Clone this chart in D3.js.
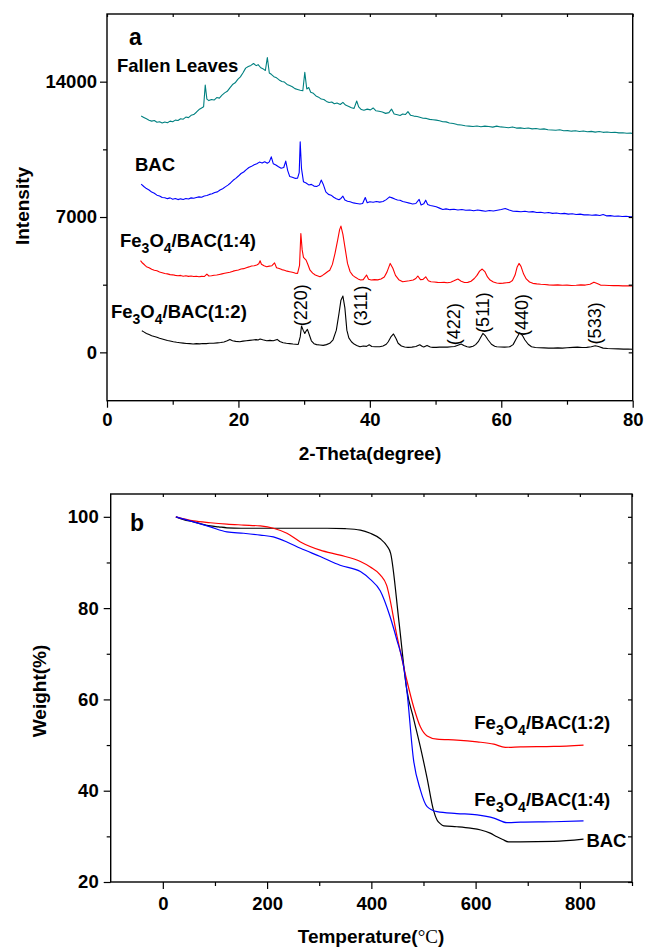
<!DOCTYPE html>
<html>
<head>
<meta charset="utf-8">
<script src="https://cdn.jsdelivr.net/npm/d3@7"></script>
<style>
  body { margin: 0; background: #fff; }
  svg text { font-family: 'Liberation Sans', Arial, Helvetica, sans-serif; }
</style>
</head>
<body>
<svg id="fig" width="646" height="948"></svg>
<script>
// ---- panel a: XRD, [2theta, intensity] ----
const leaves = [
  [5.2,12220],[5.6,12150],[6.0,12080],[6.4,12010],[6.8,11960],[7.2,11990],[7.6,11900],[8.0,11930],[8.4,11860],[8.8,11910],
  [9.2,11880],[9.6,11960],[10.0,11930],[10.4,12010],[10.8,11990],[11.2,12080],[11.6,12060],[12.0,12170],[12.4,12140],[12.8,12260],
  [13.2,12300],[13.6,12420],[14.0,12560],[14.4,12640],[14.7,12700],[14.95,13820],[15.2,13100],[15.5,13020],[15.9,13080],[16.3,13050],
  [16.7,13180],[17.1,13150],[17.5,13300],[17.9,13420],[18.3,13500],[18.7,13680],[19.1,13850],[19.5,13940],[19.9,14120],[20.3,14250],
  [20.7,14460],[21.1,14700],[21.5,14780],[21.9,14840],[22.3,14940],[22.7,14830],[23.0,14880],[23.4,14720],[23.8,14650],[24.1,14580],
  [24.4,15250],[24.7,14450],[25.0,14380],[25.4,14260],[25.8,14200],[26.2,14090],[26.6,14010],[27.0,13980],[27.4,13860],[27.8,13800],
  [28.2,13740],[28.6,13640],[29.0,13600],[29.4,13560],[29.8,13530],[30.1,14480],[30.4,13620],[30.7,13700],[31.0,13450],[31.4,13400],
  [31.8,13260],[32.2,13200],[32.6,13100],[33.0,13080],[33.4,12980],[33.8,12920],[34.2,12950],[34.6,12860],[35.0,12900],[35.5,12820],
  [35.9,12930],[36.3,12790],[36.8,12720],[37.2,12650],[37.6,12620],[38.0,13000],[38.3,12700],[38.7,12560],[39.1,12520],[39.6,12580],
  [40.1,12540],[40.5,12640],[40.9,12500],[41.4,12470],[41.9,12430],[42.4,12360],[42.9,12400],[43.3,12580],[43.7,12330],[44.2,12290],
  [44.6,12250],[45.0,12330],[45.4,12300],[45.8,12450],[46.2,12260],[46.7,12220],[47.2,12200],[47.6,12160],[48.1,12110],[48.6,12100],
  [49.1,12050],[49.6,12030],[50.1,12010],[50.6,11980],[51.1,11930],[51.6,11920],[52.1,11860],[52.7,11840],[53.3,11780],[53.9,11760],
  [54.5,11720],[55.1,11700],[55.7,11680],[56.3,11710],[56.9,11670],[57.5,11700],[58.1,11680],[58.7,11650],[59.3,11700],[59.9,11660],
  [60.5,11640],[61.1,11620],[61.7,11660],[62.3,11600],[62.9,11610],[63.5,11580],[64.1,11600],[64.7,11560],[65.3,11580],[65.9,11540],
  [66.5,11560],[67.1,11510],[67.7,11500],[68.3,11490],[68.9,11510],[69.5,11460],[70.1,11470],[70.7,11440],[71.3,11460],[71.9,11420],
  [72.5,11450],[73.1,11410],[73.7,11430],[74.3,11390],[74.9,11420],[75.5,11380],[76.1,11400],[76.7,11370],[77.3,11380],[77.9,11350],
  [78.5,11360],[79.1,11330],[79.7,11340],[80.0,11320]
];
const bac = [
  [5.2,8700],[5.6,8580],[6.0,8470],[6.4,8400],[6.8,8290],[7.2,8230],[7.6,8130],[8.0,8090],[8.4,8010],[8.8,8000],
  [9.2,7950],[9.6,7990],[10.0,7920],[10.4,7960],[10.8,7900],[11.2,7940],[11.6,7910],[12.0,7960],[12.4,7930],[12.8,7990],
  [13.2,7970],[13.6,8010],[14.0,8040],[14.4,8020],[14.8,8090],[15.2,8110],[15.6,8170],[16.0,8200],[16.4,8270],[16.8,8300],
  [17.2,8400],[17.6,8460],[18.0,8560],[18.4,8650],[18.8,8760],[19.2,8900],[19.6,9000],[20.0,9120],[20.4,9250],[20.8,9330],
  [21.2,9450],[21.6,9560],[22.0,9620],[22.4,9700],[22.8,9760],[23.2,9840],[23.6,9790],[24.0,9860],[24.4,9780],[24.7,9850],
  [25.0,10110],[25.3,9760],[25.7,9690],[26.1,9600],[26.5,9520],[26.9,9560],[27.2,9890],[27.5,9400],[27.8,9100],[28.2,9060],
  [28.6,9000],[29.0,9010],[29.25,9300],[29.4,10890],[29.6,9500],[29.9,8820],[30.3,8760],[30.7,8660],[31.1,8690],[31.5,8600],
  [31.9,8580],[32.3,8650],[32.6,8910],[32.9,8700],[33.3,8300],[33.7,8170],[34.1,8130],[34.5,8020],[34.9,7950],[35.3,7890],
  [35.6,7960],[35.9,8080],[36.2,7880],[36.6,7820],[37.0,7790],[37.5,7730],[38.0,7700],[38.5,7670],[38.9,7700],[39.3,8010],
  [39.6,7740],[40.0,7790],[40.5,7760],[41.0,7800],[41.5,7770],[42.0,7800],[42.5,7900],[43.0,8040],[43.4,7990],[43.8,7930],
  [44.2,7880],[44.6,7870],[45.0,7800],[45.5,7760],[46.0,7720],[46.5,7670],[47.0,7700],[47.5,7910],[47.8,7620],[48.2,7680],
  [48.5,7870],[48.8,7650],[49.2,7600],[49.6,7570],[50.1,7530],[50.6,7460],[51.1,7390],[51.6,7420],[52.2,7380],[52.8,7400],
  [53.4,7360],[54.0,7390],[54.6,7350],[55.2,7360],[55.8,7320],[56.4,7360],[57.0,7330],[57.6,7300],[58.2,7340],[58.8,7310],
  [59.4,7350],[60.0,7390],[60.6,7440],[61.2,7360],[61.8,7300],[62.4,7290],[63.0,7270],[63.6,7300],[64.2,7260],[64.8,7280],
  [65.4,7230],[66.0,7250],[66.6,7210],[67.2,7230],[67.8,7190],[68.4,7210],[69.0,7170],[69.6,7190],[70.2,7150],[70.8,7170],
  [71.4,7130],[72.0,7150],[72.6,7110],[73.2,7120],[73.8,7090],[74.4,7110],[75.0,7080],[75.5,7130],[76.0,7060],[76.6,7070],
  [77.2,7040],[77.8,7050],[78.4,7030],[79.0,7040],[79.6,7010],[80.0,7010]
];
const fe14 = [
  [5.1,4740],[5.4,4620],[5.7,4530],[6.0,4430],[6.4,4380],[6.8,4300],[7.2,4250],[7.6,4220],[8.0,4160],[8.4,4120],
  [8.8,4080],[9.2,4060],[9.6,4020],[10.0,4010],[10.4,3980],[10.8,3960],[11.2,3980],[11.6,3940],[12.0,3960],[12.4,3930],
  [12.8,3950],[13.2,3920],[13.6,3940],[14.0,3910],[14.4,3930],[14.8,3920],[15.2,4050],[15.5,3950],[15.9,3960],[16.3,3990],
  [16.7,4000],[17.1,4030],[17.5,4060],[17.9,4090],[18.3,4120],[18.7,4140],[19.2,4200],[19.6,4230],[20.0,4260],[20.4,4310],
  [20.8,4330],[21.2,4380],[21.6,4420],[22.0,4470],[22.4,4480],[22.8,4520],[23.1,4580],[23.3,4740],[23.5,4560],[23.9,4480],
  [24.3,4430],[24.7,4460],[25.1,4480],[25.5,4630],[25.8,4380],[26.2,4340],[26.6,4280],[27.0,4250],[27.4,4200],[27.8,4170],
  [28.2,4140],[28.6,4100],[29.0,4080],[29.3,4500],[29.5,6150],[29.7,5300],[29.9,4910],[30.3,4770],[30.6,4520],[30.9,4250],
  [31.3,4100],[31.7,4000],[32.1,3950],[32.4,3910],[32.8,3980],[33.2,4080],[33.6,4180],[33.9,4250],[34.3,4550],[34.7,5120],
  [35.1,5800],[35.4,6350],[35.6,6530],[35.9,6100],[36.2,5460],[36.6,4600],[37.0,4170],[37.4,3980],[37.8,3880],[38.2,3800],
  [38.6,3740],[39.0,3760],[39.5,4000],[39.8,3780],[40.2,3740],[40.7,3760],[41.2,3750],[41.7,3790],[42.2,3900],[42.6,4150],
  [43.1,4600],[43.5,4350],[43.9,3980],[44.4,3760],[45.0,3650],[45.5,3680],[46.0,3700],[46.6,3740],[47.0,3820],[47.3,3950],
  [47.7,3760],[48.1,3770],[48.5,3910],[48.9,3700],[49.3,3650],[49.8,3640],[50.3,3620],[50.8,3610],[51.3,3620],[51.8,3600],
  [52.3,3630],[52.8,3700],[53.4,3790],[53.9,3680],[54.4,3610],[54.9,3620],[55.4,3680],[55.9,3820],[56.3,3980],[56.7,4200],
  [57.1,4310],[57.5,4180],[57.9,3900],[58.3,3740],[58.8,3640],[59.3,3590],[59.8,3570],[60.3,3580],[60.8,3600],[61.3,3620],
  [61.7,3720],[62.1,4000],[62.4,4400],[62.7,4600],[63.0,4450],[63.4,4050],[63.8,3800],[64.3,3640],[64.8,3570],[65.4,3540],
  [66.0,3520],[66.6,3510],[67.2,3490],[67.9,3480],[68.6,3490],[69.3,3470],[70.0,3480],[70.7,3460],[71.4,3470],[72.1,3490],
  [72.8,3480],[73.5,3520],[74.1,3630],[74.6,3560],[75.1,3480],[75.7,3470],[76.4,3460],[77.1,3450],[77.8,3450],[78.5,3440],
  [79.2,3440],[80.0,3430]
];
const fe12 = [
  [5.3,1120],[5.6,1060],[6.0,980],[6.4,920],[6.8,860],[7.2,820],[7.6,780],[8.0,730],[8.4,690],[8.8,650],
  [9.2,610],[9.6,590],[10.1,550],[10.6,520],[11.1,500],[11.6,480],[12.1,460],[12.6,450],[13.1,430],[13.6,450],
  [14.1,440],[14.6,460],[15.1,450],[15.6,470],[16.2,470],[16.8,490],[17.3,510],[17.8,540],[18.3,600],[18.7,670],
  [19.1,600],[19.6,570],[20.2,550],[20.7,580],[21.2,600],[21.7,620],[22.2,640],[22.7,660],[23.0,640],[23.3,690],
  [23.7,650],[24.3,600],[24.8,620],[25.3,600],[25.9,670],[26.3,560],[26.8,500],[27.3,470],[27.8,450],[28.3,430],
  [28.7,420],[29.1,410],[29.4,800],[29.6,1360],[29.85,1150],[30.1,980],[30.3,1100],[30.5,1190],[30.8,900],[31.1,600],
  [31.5,450],[31.9,400],[32.4,380],[32.9,360],[33.4,400],[33.9,470],[34.4,650],[34.9,1150],[35.3,2000],[35.6,2700],
  [35.9,2910],[36.2,2300],[36.5,1150],[36.8,750],[37.2,550],[37.6,430],[38.0,360],[38.5,290],[39.0,330],[39.5,310],
  [39.9,390],[40.3,300],[40.8,290],[41.5,290],[42.0,330],[42.5,420],[42.8,550],[43.2,800],[43.6,950],[44.0,700],
  [44.3,470],[44.8,330],[45.3,280],[45.8,260],[46.4,270],[47.0,300],[47.6,390],[48.0,300],[48.2,280],[48.7,360],
  [49.2,280],[49.6,260],[50.1,260],[50.6,270],[51.2,280],[51.8,270],[52.4,290],[52.9,300],[53.5,380],[53.9,430],
  [54.3,360],[54.8,290],[55.2,270],[55.7,320],[56.1,400],[56.5,550],[56.9,800],[57.2,980],[57.6,850],[58.0,640],
  [58.5,420],[59.0,320],[59.3,290],[59.9,280],[60.5,270],[61.3,290],[61.8,400],[62.3,720],[62.8,1010],[63.2,880],
  [63.6,640],[64.1,420],[64.6,290],[65.2,250],[65.8,240],[66.5,230],[67.2,220],[67.9,220],[68.6,230],[69.3,220],
  [70.0,240],[70.9,260],[71.6,270],[72.3,250],[73.0,260],[73.7,290],[74.3,340],[74.8,300],[75.5,220],[76.2,200],
  [77.0,190],[77.8,180],[78.6,170],[79.3,170],[80.0,160]
];
const xrdTicksX = [0, 20, 40, 60, 80];
const xrdMinorX = [10, 30, 50, 70];
const xrdTicksY = [0, 7000, 14000];
const xrdMinorY = [3500, 10500];
const hklLabels = ['(220)', '(311)', '(422)', '(511)', '(440)', '(533)'];
const hklTheta = [30.4, 39.5, 53.7, 58.2, 64.0, 75.1];
const hklI = [2440, 2400, 1460, 2060, 1930, 1500];

// ---- panel b: TGA, temperature (C) and weight (%) ----
const tgaBacT = [25, 40, 59, 75, 91, 107, 123, 150, 187, 250, 315, 350, 379, 398, 417, 430, 437, 453, 468, 481, 494, 507, 519, 526, 532, 539, 564, 590, 610, 628, 641, 652, 663, 686, 750, 807];
const tgaBacW = [100, 99.4, 98.9, 98.4, 98.0, 97.8, 97.6, 97.5, 97.5, 97.5, 97.5, 97.4, 97.1, 96.4, 95.2, 93.6, 92.0, 77.0, 62.1, 55.8, 49.6, 42.7, 35.8, 33.6, 32.8, 32.3, 32.1, 31.8, 31.4, 30.7, 29.9, 29.3, 28.8, 28.8, 28.9, 29.4];
const tga12T = [25, 59, 91, 123, 155, 187, 212, 238, 264, 302, 340, 379, 398, 417, 429, 449, 468, 481, 494, 507, 526, 564, 603, 635, 657, 686, 750, 807];
const tga12W = [100, 99.1, 98.7, 98.4, 98.2, 98.0, 97.5, 96.4, 94.5, 92.7, 91.6, 90.2, 89.0, 87.3, 85.1, 74.0, 64.2, 58.4, 54.0, 52.0, 51.3, 51.1, 50.7, 50.2, 49.5, 49.6, 49.7, 50.0];
const tga14T = [25, 59, 91, 123, 155, 187, 212, 238, 264, 302, 340, 379, 398, 417, 436, 449, 462, 468, 481, 494, 507, 526, 564, 603, 635, 660, 686, 750, 807];
const tga14W = [100, 98.9, 97.8, 96.7, 96.4, 96.0, 95.6, 94.5, 93.1, 91.3, 89.4, 88.0, 86.3, 83.8, 78.1, 73.0, 67.2, 62.1, 46.7, 40.2, 36.5, 35.4, 35.0, 34.7, 34.0, 33.0, 33.1, 33.2, 33.4];
const tgaTicksX = [0, 200, 400, 600, 800];
const tgaMinorX = [100, 300, 500, 700, 900];
const tgaTicksY = [20, 40, 60, 80, 100];
const tgaMinorY = [30, 50, 70, 90];

const svg = d3.select('#fig');
const tickFont = 18.5;

// frame + ticks for one panel
function drawAxes(x, y, opt) {
  const [x0, x1] = x.range();
  const [y0, y1] = y.range();
  const g = svg.append('g');
  const fmt = d3.format('d');

  const bottom = g.append('g').attr('transform', `translate(0,${y0})`);
  bottom.append('g').call(d3.axisBottom(x).tickValues(opt.minorX).tickSize(4).tickFormat(''));
  bottom.append('g').call(d3.axisBottom(x).tickValues(opt.ticksX).tickSize(7).tickPadding(opt.padX).tickFormat(fmt));

  const left = g.append('g').attr('transform', `translate(${x0},0)`);
  left.append('g').call(d3.axisLeft(y).tickValues(opt.minorY).tickSize(4).tickFormat(''));
  left.append('g').call(d3.axisLeft(y).tickValues(opt.ticksY).tickSize(7).tickPadding(opt.padY).tickFormat(fmt));

  // mirrored ticks, pointing inward
  g.append('g').attr('transform', `translate(0,${y1})`)
    .call(d3.axisTop(x).tickValues(opt.ticksX.concat(opt.minorX)).tickSize(-3).tickFormat(''));
  g.append('g').attr('transform', `translate(${x1},0)`)
    .call(d3.axisRight(y).tickValues(opt.ticksY.concat(opt.minorY)).tickSize(-4).tickFormat(''));

  g.selectAll('.domain').remove();
  g.selectAll('.tick line').attr('stroke', '#000').attr('stroke-width', 1.2);
  g.selectAll('.tick text')
    .style('font-size', tickFont + 'px')
    .style('font-weight', 'bold')
    .style('fill', '#000');

  g.append('rect')
    .attr('x', x0).attr('y', y1)
    .attr('width', x1 - x0).attr('height', y0 - y1)
    .attr('fill', 'none').attr('stroke', '#000').attr('stroke-width', 1.4);
}

function feLabel(x, y, ratio) {
  const t = svg.append('text')
    .attr('x', x).attr('y', y)
    .attr('font-size', 18.5).attr('font-weight', 'bold');
  t.append('tspan').text('Fe');
  t.append('tspan').attr('font-size', 14).attr('dy', 6).text('3');
  t.append('tspan').attr('dy', -6).text('O');
  t.append('tspan').attr('font-size', 14).attr('dy', 6).text('4');
  t.append('tspan').attr('dy', -6).text(`/BAC(${ratio})`);
}

function label(x, y, txt, size) {
  return svg.append('text')
    .attr('x', x).attr('y', y)
    .attr('font-size', size || 18.5).attr('font-weight', 'bold')
    .text(txt);
}

// ---------- panel a ----------
const xa = d3.scaleLinear().domain([0, 80]).range([107, 632.7]);
const ya = d3.scaleLinear().domain([-2500, 17500]).range([400.7, 14]);

const xrdLine = d3.line().x(d => xa(d[0])).y(d => ya(d[1]));
[[leaves, '#008080'], [bac, '#0000ff'], [fe14, '#ff0000'], [fe12, '#000000']].forEach(([s, c]) => {
  svg.append('path')
    .attr('d', xrdLine(s))
    .attr('fill', 'none')
    .attr('stroke', c)
    .attr('stroke-width', 1.1)
    .attr('stroke-linejoin', 'round');
});

drawAxes(xa, ya, {ticksX: xrdTicksX, minorX: xrdMinorX, ticksY: xrdTicksY, minorY: xrdMinorY, padX: 5, padY: 3});

hklLabels.forEach((t, i) => {
  svg.append('text')
    .attr('transform', `translate(${xa(hklTheta[i])},${ya(hklI[i])}) rotate(-90)`)
    .attr('text-anchor', 'middle')
    .attr('font-size', 18)
    .text(t);
});

label(xa(3.35), ya(15887), 'a', 23);
label(xa(1.52), ya(14490), 'Fallen Leaves');
label(xa(4.26), ya(9373), 'BAC');
feLabel(xa(1.98), ya(5460), '1:4');
feLabel(xa(0.6), ya(1758), '1:2');

svg.append('text')
  .attr('x', 370).attr('y', 460)
  .attr('text-anchor', 'middle')
  .attr('font-size', 19).attr('font-weight', 'bold')
  .text('2-Theta(degree)');
svg.append('text')
  .attr('transform', 'translate(29,206) rotate(-90)')
  .attr('text-anchor', 'middle')
  .attr('font-size', 19).attr('font-weight', 'bold')
  .text('Intensity');

// ---------- panel b ----------
const xb = d3.scaleLinear().domain([-100, 900]).range([110.7, 632]);
const yb = d3.scaleLinear().domain([20, 105]).range([882, 494]);

const tgaLine = d3.line().curve(d3.curveMonotoneX).x(d => xb(d[0])).y(d => yb(d[1]));
[[tgaBacT, tgaBacW, '#000000'], [tga12T, tga12W, '#ff0000'], [tga14T, tga14W, '#0000ff']].forEach(([t, w, c]) => {
  svg.append('path')
    .attr('d', tgaLine(d3.zip(t, w)))
    .attr('fill', 'none')
    .attr('stroke', c)
    .attr('stroke-width', 1.2);
});

drawAxes(xb, yb, {ticksX: tgaTicksX, minorX: tgaMinorX, ticksY: tgaTicksY, minorY: tgaMinorY, padX: 8, padY: 5});

label(xb(-62.8), yb(96.9), 'b', 23);
feLabel(xb(597.5), yb(53.45), '1:2');
feLabel(xb(597.5), yb(36.65), '1:4');
label(xb(812.5), yb(27.7), 'BAC');

const tt = svg.append('text')
  .attr('x', 371).attr('y', 943)
  .attr('text-anchor', 'middle')
  .attr('font-size', 19).attr('font-weight', 'bold');
tt.append('tspan').text('Temperature(');
tt.append('tspan').attr('font-family', "'Liberation Serif', 'Times New Roman', serif").attr('font-weight', 'normal').text('\u00B0C');
tt.append('tspan').text(')');

svg.append('text')
  .attr('transform', 'translate(46,691) rotate(-90)')
  .attr('text-anchor', 'middle')
  .attr('font-size', 19).attr('font-weight', 'bold')
  .text('Weight(%)');
</script>
</body>
</html>
